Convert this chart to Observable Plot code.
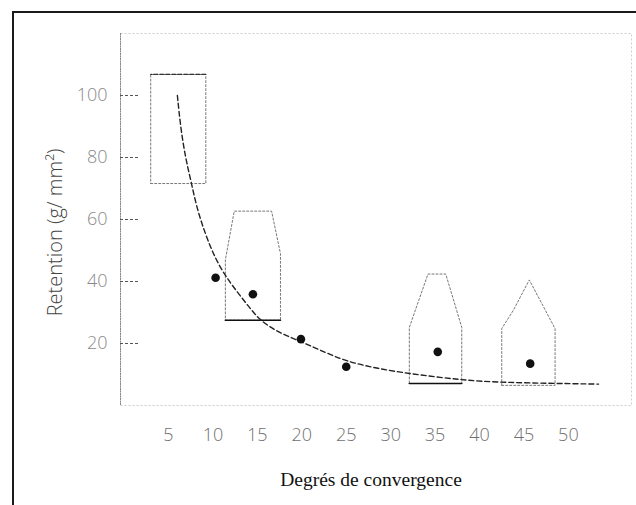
<!DOCTYPE html>
<html><head><meta charset="utf-8">
<script src="https://cdn.jsdelivr.net/npm/d3@7"></script>
<script src="https://cdn.jsdelivr.net/npm/@observablehq/plot@0.6"></script>
<style>
html,body{margin:0;padding:0;background:#fff;overflow:hidden;}
#wrap{position:relative;width:636px;height:505px;}
#wrap svg{position:absolute;left:0;top:0;}
#border{position:absolute;left:12px;top:11px;width:700px;height:600px;border-left:2px solid #1a1a1a;border-top:2px solid #1a1a1a;pointer-events:none;}
</style></head><body>
<div id="wrap"><div id="border"></div></div>
<script>
// ---- data ----
const xTicks = [5, 10, 15, 20, 25, 30, 35, 40, 45, 50];
const yTicks = [20, 40, 60, 80, 100];
const xTitle = "Degrés de convergence";
const yTitle = "Retention (g/ mm²)";

// observed means (filled dots)
const dotX = [10.3, 14.5, 19.9, 25.0, 35.3, 45.7];
const dotY = [41.2, 35.9, 21.4, 12.5, 17.3, 13.5];

// fitted curve, points
const curveX = [6.0, 6.35, 6.9, 7.55, 8.2, 9.2, 10.1, 11.2, 12.7, 14.2, 15.3, 17.2, 19.5, 22.1, 25.1, 28.6, 32.0, 38.0, 42.3, 53.4];
const curveY = [100, 90, 80, 72.2, 63.5, 54.9, 48.5, 42.6, 36.7, 31.3, 27.5, 23.8, 21.1, 17.8, 14.1, 11.9, 10.3, 8.2, 7.4, 6.9];

// box outlines (x, y vertices)
const box1X = [3.0, 9.2, 9.2, 3.0];
const box1Y = [71.6, 71.6, 106.8, 106.8];
const box2X = [11.4, 17.6, 17.6, 16.6, 12.4, 11.4];
const box2Y = [27.5, 27.5, 49, 62.7, 62.7, 47];
const box3X = [32.1, 38.0, 38.0, 36.2, 34.2, 32.1];
const box3Y = [7.1, 7.1, 25.2, 42.4, 42.4, 25.2];
const box4X = [42.5, 48.5, 48.5, 45.6, 43.8, 42.5];
const box4Y = [6.5, 6.5, 24.8, 40.5, 30.7, 24.8];

// ---- build tables ----
const dots = dotX.map((x, i) => ({x, y: dotY[i]}));
const curve = curveX.map((x, i) => ({x, y: curveY[i]}));
const boxes = [[box1X, box1Y], [box2X, box2Y], [box3X, box3Y], [box4X, box4Y]];
const boxPts = boxes.flatMap(([bx, by], b) =>
  [...bx, bx[0]].map((x, i) => ({box: b, x, y: [...by, by[0]][i]})));
const bottoms = [1, 2].flatMap(b => [0, 1].map(i => ({box: b, x: boxes[b][0][i], y: boxes[b][1][i]})));
const box1Top = [2, 3].map(i => ({x: box1X[i], y: box1Y[i]}));

const lightFont = "'Open Sans', 'DejaVu Sans', sans-serif";

const chart = Plot.plot({
  width: 636,
  height: 505,
  marginLeft: 120,
  marginRight: 5,
  marginTop: 33,
  marginBottom: 100,
  style: {fontFamily: lightFont, background: "transparent"},
  x: {domain: [-0.4, 57.1], axis: null},
  y: {domain: [0, 120], axis: null},
  marks: [
    Plot.frame({stroke: "#cfcfcf", strokeDasharray: "2,2"}),
    Plot.frame({anchor: "left", stroke: "#888", strokeDasharray: "1,1.5"}),
    Plot.axisY({ticks: yTicks, tickSize: -18, fill: "none", stroke: "#555", strokeDasharray: "3,2", label: null}),
    Plot.axisY({ticks: yTicks, tickSize: 0, tickPadding: 13, fill: "#8a8a8a", fontSize: 18, fontWeight: 300, label: null}),
    Plot.axisX({ticks: xTicks, tickSize: 0, tickPadding: 23, fill: "#707070", fontSize: 18, fontWeight: 300, label: null}),
    Plot.line(boxPts, {x: "x", y: "y", z: "box", stroke: "#777", strokeWidth: 1, strokeDasharray: "2,2"}),
    Plot.line(bottoms, {x: "x", y: "y", z: "box", stroke: "#111", strokeWidth: 1.6}),
    Plot.line(box1Top, {x: "x", y: "y", stroke: "#333", strokeWidth: 1.2, strokeDasharray: "4,2"}),
    Plot.line(curve, {x: "x", y: "y", curve: "basis", stroke: "#222", strokeWidth: 1.4, strokeDasharray: "5,3"}),
    Plot.dot(dots, {x: "x", y: "y", r: 4.3, fill: "#111", stroke: "none"}),
    Plot.text([xTitle], {frameAnchor: "bottom", dx: -5, dy: 80, fontFamily: "'Liberation Serif', 'Times New Roman', serif", fontSize: 19.5, fill: "#111"}),
    Plot.text([yTitle], {frameAnchor: "left", textAnchor: "middle", dx: -65, dy: 13, rotate: -90, fontSize: 20, fontWeight: 300, fill: "#444"})
  ]
});
document.getElementById("wrap").prepend(chart);
</script>
</body></html>
